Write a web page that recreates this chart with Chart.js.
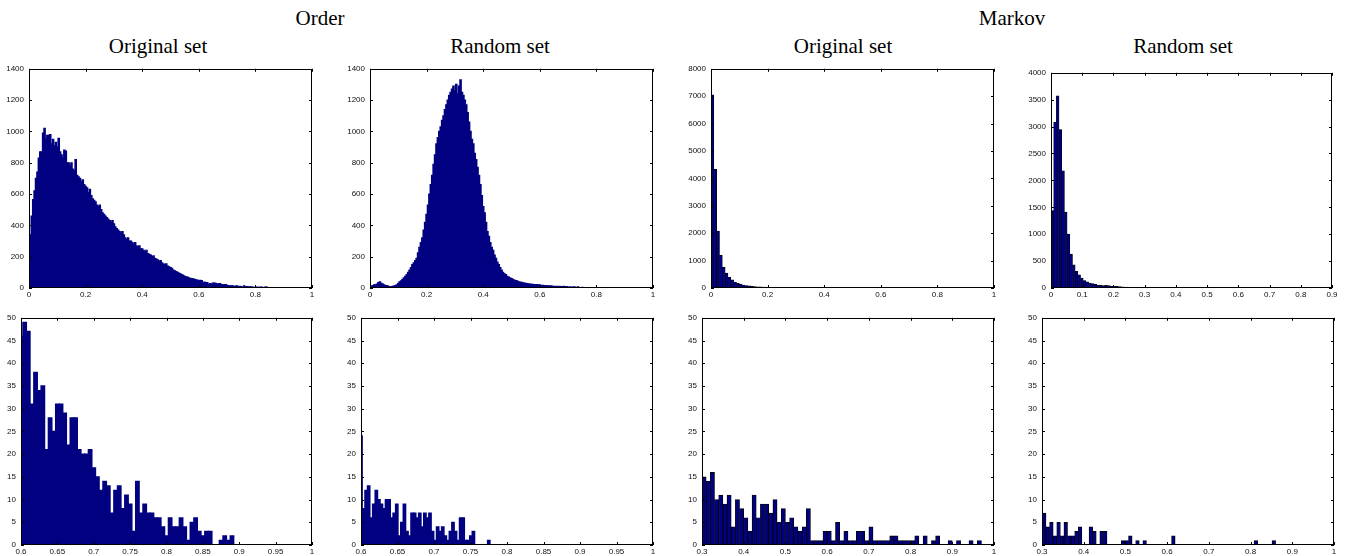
<!DOCTYPE html>
<html>
<head>
<meta charset="utf-8">
<script src="https://cdn.jsdelivr.net/npm/chart.js@4.4.1/dist/chart.umd.min.js"></script>
<style>
  body { margin: 0; background: #fff; }
  #fig { position: relative; width: 1348px; height: 556px; overflow: hidden; background: #fff; }
  .title { position: absolute; font-family: "Liberation Serif", "Times New Roman", serif; font-size: 21px; line-height: 24px; white-space: nowrap; transform: translateX(-50%); color: #000; }
  canvas { position: absolute; }
</style>
</head>
<body>
<div id="fig">
  <div class="title" style="left:320px;top:6px">Order</div>
  <div class="title" style="left:1012px;top:6px">Markov</div>
  <div class="title" style="left:158px;top:34px">Original set</div>
  <div class="title" style="left:500px;top:34px">Random set</div>
  <div class="title" style="left:843px;top:34px">Original set</div>
  <div class="title" style="left:1183px;top:34px">Random set</div>
</div>
<script>
// Order / original set: bins of 0.005 centred on 0, 0.005, ...
const orderOrigHead = [
  130, 340, 460, 565, 620, 700, 740, 830, 870, 870,
  990, 1020, 950, 975, 975, 980, 920, 950, 910, 930,
  900, 955, 870, 850, 830, 880, 875, 800, 800, 780,
  800, 760, 750, 820, 720, 710, 700, 680, 690, 660,
  650, 640, 610, 630, 590, 570, 560, 550, 530, 520,
  530, 500, 480, 470, 460, 450, 440, 430, 420, 430,
  410, 390, 380, 370, 360, 350, 360, 340, 320, 310,
  320, 300, 300, 290, 280, 290, 270, 260, 270, 250,
  250, 240, 230, 240, 220, 215, 210, 200, 205, 190,
  185, 180, 170, 175, 160, 155, 150, 155, 140, 135,
  130, 125, 115, 110, 105, 100, 95, 90, 85, 80,
  75, 72, 70, 65, 62, 60, 58, 55, 52, 50
];
// same histogram from 0.6 on (shown zoomed in the lower panel)
const orderOrigTail = [
  46, 49, 47, 31, 38, 34, 35, 21, 28, 25,
  31, 31, 29, 22, 28, 28, 21, 20, 20, 21,
  17, 15, 12, 14, 13, 7, 12, 13, 8, 11,
  9, 3, 14, 7, 9, 7, 7, 6, 6, 4,
  2, 6, 4, 4, 6, 4, 1, 5, 6, 3,
  2, 3, 3, 0, 0, 1, 2, 1, 2
];

// Order / random set, upper panel (bins of 0.005)
const orderRandHead = [
  5, 10, 15, 20, 20, 25, 35, 40, 30, 25,
  20, 15, 15, 10, 8, 8, 10, 12, 15, 20,
  30, 40, 45, 55, 65, 75, 85, 100, 115, 130,
  150, 160, 175, 190, 225, 260, 290, 320, 370, 420,
  470, 530, 600, 660, 720, 790, 850, 920, 960, 1000,
  1030, 1070, 1100, 1140, 1170, 1200, 1230, 1250, 1270, 1290,
  1260, 1300, 1240, 1290, 1330, 1250, 1230, 1200, 1170, 1120,
  1060, 1000, 950, 920, 860, 820, 770, 720, 660, 590,
  520, 480, 420, 360, 330, 290, 260, 240, 210, 190,
  165, 150, 130, 115, 100, 90, 85, 75, 70, 65,
  60, 55, 50, 48, 45, 40, 38, 36, 33, 32,
  30, 28, 26, 25, 24, 23, 22, 22, 21, 20,
  20, 14, 17, 14, 15, 13, 14, 12, 13, 10,
  11, 9, 10, 6, 10, 9, 9, 10, 8, 9,
  5, 6, 6, 4, 7, 5, 3, 8, 2, 3,
  4, 1, 0, 1, 1, 1, 0, 1, 0, 1
];
// Order / random set, lower panel (bins of 0.0035 from 0.6)
const orderRandTail = [
  24, 8, 12, 13, 6, 9, 12, 10, 9, 8,
  10, 10, 6, 7, 9, 2, 5, 9, 3, 2,
  7, 7, 6, 7, 4, 7, 6, 7, 3, 1,
  4, 3, 4, 2, 1, 3, 5, 3, 1, 6,
  6, 1, 1, 2, 3, 0, 0, 0, 0, 0,
  1
];

// Markov / original set: bins of 0.01 starting at 0
const markovOrigHead = [
  7050, 4330, 2080, 1190, 750, 540, 390, 300, 220, 170,
  140, 110, 90, 75, 60, 50, 45, 40, 35, 30,
  28, 25, 23, 21, 20, 19, 18, 17, 16, 15
];
const markovOrigTail = [
  15, 14, 16, 10, 11, 9, 11, 4, 10, 8,
  6, 3, 11, 6, 9, 9, 7, 10, 5, 8,
  5, 6, 4, 3, 4, 8, 1, 1, 1, 3,
  3, 1, 5, 1, 3, 1, 1, 3, 3, 1,
  4, 1, 1, 1, 1, 2, 2, 1, 1, 1,
  1, 2, 0, 2, 0, 1, 2, 0, 0, 1,
  0, 1, 0, 0, 1, 0, 1
];

// Markov / random set: 100 bins of 0.0086 starting at 0
const markovRandHead = [
  1440, 3080, 3570, 2945, 2180, 1410, 1000, 630, 430, 310,
  245, 185, 140, 115, 92, 80, 67, 55, 49, 43,
  49, 43, 37, 31, 30, 25, 22, 18, 16, 14,
  12, 11, 9, 8, 8
];
const markovRandTail = [
  7, 4, 5, 2, 5, 2, 5, 2, 2, 3,
  4, 0, 0, 4, 3, 0, 3, 3, 0, 0,
  0, 0, 1, 1, 2, 0, 1, 0, 1, 0,
  0, 0, 0, 0, 0, 0, 2, 0, 0, 0,
  0, 0, 0, 0, 0, 0, 0, 0, 0, 0,
  0, 0, 0, 0, 0, 0, 0, 0, 0, 1,
  0, 0, 0, 0, 1
];

const BAR_BLUE = '#000080';
const Y_AXIS_W = 34, X_AXIS_H = 16, PAD_TOP = 8, PAD_RIGHT = 10;
const tickFont = { family: 'Liberation Sans, Arial, sans-serif', size: 8 };
const fmt = v => String(parseFloat(Number(v).toFixed(4)));

// MATLAB style box with inward ticks on all sides
const matlabBox = {
  id: 'matlabBox',
  afterDatasetsDraw(chart) {
    const { ctx, chartArea: a, scales: { x, y } } = chart;
    const L = 3;
    ctx.save();
    ctx.strokeStyle = '#000';
    ctx.lineWidth = 1;
    ctx.beginPath();
    x.ticks.forEach(t => {
      const px = Math.round(x.getPixelForValue(t.value)) + 0.5;
      ctx.moveTo(px, a.bottom); ctx.lineTo(px, a.bottom - L);
      ctx.moveTo(px, a.top); ctx.lineTo(px, a.top + L);
    });
    y.ticks.forEach(t => {
      const py = Math.round(y.getPixelForValue(t.value)) + 0.5;
      ctx.moveTo(a.left, py); ctx.lineTo(a.left + L, py);
      ctx.moveTo(a.right, py); ctx.lineTo(a.right - L, py);
    });
    ctx.stroke();
    ctx.strokeRect(Math.round(a.left) + 0.5, Math.round(a.top) + 0.5,
                   Math.round(a.width) - 1, Math.round(a.height) - 1);
    ctx.restore();
  }
};

function histPanel(box, counts, binStart, binWidth, xAxis, yAxis, edge) {
  const fig = document.getElementById('fig');
  const canvas = document.createElement('canvas');
  const w = Y_AXIS_W + (box[2] - box[0]) + PAD_RIGHT;
  const h = PAD_TOP + (box[3] - box[1]) + X_AXIS_H;
  canvas.width = w;
  canvas.height = h;
  canvas.style.left = (box[0] - Y_AXIS_W) + 'px';
  canvas.style.top = (box[1] - PAD_TOP) + 'px';
  fig.appendChild(canvas);

  const points = counts.map((c, i) => ({ x: binStart + i * binWidth, y: c }));

  return new Chart(canvas, {
    type: 'bar',
    data: {
      datasets: [{
        data: points,
        backgroundColor: BAR_BLUE,
        borderColor: '#000',
        borderWidth: edge,
        borderSkipped: 'start',
        // solid fills are inflated a bit so no seams show between narrow bars
        inflateAmount: edge ? 'auto' : 0.6,
        barPercentage: 1,
        categoryPercentage: 1
      }]
    },
    options: {
      responsive: false,
      animation: false,
      devicePixelRatio: 1,
      layout: { padding: { top: PAD_TOP, right: PAD_RIGHT, left: 0, bottom: 0 } },
      plugins: { legend: { display: false }, tooltip: { enabled: false } },
      scales: {
        x: {
          type: 'linear', min: xAxis[0], max: xAxis[1], offset: false,
          grid: { display: false, drawTicks: false }, border: { display: false },
          ticks: { stepSize: xAxis[2], autoSkip: false, maxRotation: 0, padding: 2,
                   font: tickFont, color: '#111', callback: fmt },
          afterFit: s => { s.height = X_AXIS_H; }
        },
        y: {
          min: 0, max: yAxis[0],
          grid: { display: false, drawTicks: false }, border: { display: false },
          ticks: { stepSize: yAxis[1], padding: 5, font: tickFont, color: '#111', callback: fmt },
          afterFit: s => { s.width = Y_AXIS_W; }
        }
      }
    },
    plugins: [matlabBox]
  });
}

// top row
histPanel([29, 67, 312, 288], orderOrigHead.concat(orderOrigTail), 0, 0.005, [0, 1, 0.2], [1400, 200], 0);
histPanel([370, 67, 653, 288], orderRandHead, 0, 0.005, [0, 1, 0.2], [1400, 200], 0);
histPanel([711, 67, 994, 288], markovOrigHead.concat(markovOrigTail), 0.005, 0.01, [0, 1, 0.2], [8000, 1000], 0.6);
histPanel([1051, 71, 1332, 288], markovRandHead.concat(markovRandTail), 0.0043, 0.0086, [0, 0.9, 0.1], [4000, 500], 0.6);

// bottom row (zoomed tails)
histPanel([21, 316, 312, 545], orderOrigTail, 0.6, 0.005, [0.6, 1, 0.05], [50, 5], 0);
histPanel([361, 316, 653, 545], orderRandTail, 0.6, 0.0035, [0.6, 1, 0.05], [50, 5], 0);
histPanel([702, 316, 994, 545], markovOrigTail, 0.305, 0.01, [0.3, 1, 0.1], [50, 5], 0.8);
histPanel([1042, 316, 1334, 545], markovRandTail, 0.0043 + 35 * 0.0086, 0.0086, [0.3, 1, 0.1], [50, 5], 0.8);
</script>
</body>
</html>
